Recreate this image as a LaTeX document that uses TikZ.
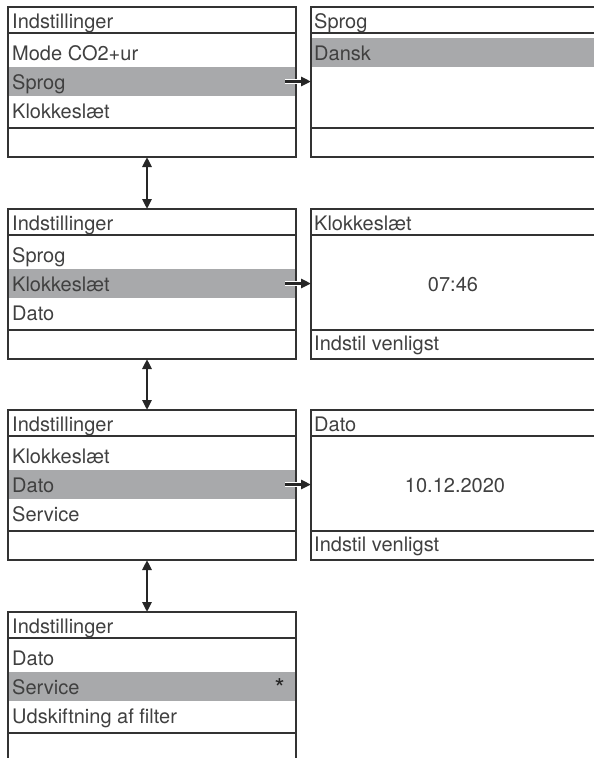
\documentclass[tikz,border=0pt]{standalone}
\usepackage{fontspec}
\setmainfont{TeX Gyre Heros}
\usetikzlibrary{arrows.meta}
\definecolor{frameline}{HTML}{333333}
\definecolor{selrow}{HTML}{A8A9AB}
\definecolor{ink}{HTML}{404040}
\begin{document}
\begin{tikzpicture}[x=1pt,y=-1pt,
  frame/.style={draw=frameline,line width=1.2pt},
  hl/.style={fill=selrow},
  txt/.style={inner sep=0pt,anchor=base west,text=ink,font=\fontsize{20}{22}\selectfont},
  ctxt/.style={txt,anchor=base},
  nav/.style={draw=black!85,line width=2.5pt,-{Triangle[length=10pt,width=9pt]}},
  navboth/.style={draw=black!85,line width=2.5pt,{Triangle[length=10pt,width=9pt]}-{Triangle[length=10pt,width=9pt]}},
  halo/.style={draw=white,line width=4.5pt}]
\useasboundingbox (0,0) rectangle (594,758);

% ---------- settings menu, step 1 (top 7) ----------
\fill[hl] (8,67) rectangle (296,96);
\draw[frame] (8,7) rectangle (296,157);
\draw[frame] (8,33) -- (296,33) (8,128) -- (296,128);
\node[txt] (m1t) at (12,28) {Indstillinger};
\node[txt] (m1a) at (12,60) {Mode CO2+ur};
\node[txt] (m1b) at (12,89) {Sprog};
\node[txt] (m1c) at (12,118) {Klokkeslæt};

% language screen
\fill[hl] (311,38) rectangle (594,67);
\draw[frame] (594,7) -- (311,7) -- (311,157) -- (594,157);
\draw[frame] (311,33) -- (594,33) (311,128) -- (594,128);
\node[txt] (s1t) at (314,28) {Sprog};
\node[txt] (s1a) at (314,60) {Dansk};

% ---------- step 2 (top 209) ----------
\fill[hl] (8,269) rectangle (296,298);
\draw[frame] (8,209) rectangle (296,359);
\draw[frame] (8,235) -- (296,235) (8,330) -- (296,330);
\node[txt] (m2t) at (12,230) {Indstillinger};
\node[txt] (m2a) at (12,262) {Sprog};
\node[txt] (m2b) at (12,291) {Klokkeslæt};
\node[txt] (m2c) at (12,320) {Dato};

% clock screen
\draw[frame] (594,209) -- (311,209) -- (311,359) -- (594,359);
\draw[frame] (311,235) -- (594,235) (311,330) -- (594,330);
\node[txt] (s2t) at (314,230) {Klokkeslæt};
\node[ctxt] (s2v) at (453,291) {07:46};
\node[txt] (s2h) at (314,350) {Indstil venligst};

% ---------- step 3 (top 410) ----------
\fill[hl] (8,470) rectangle (296,499);
\draw[frame] (8,410) rectangle (296,560);
\draw[frame] (8,436) -- (296,436) (8,531) -- (296,531);
\node[txt] (m3t) at (12,431) {Indstillinger};
\node[txt] (m3a) at (12,463) {Klokkeslæt};
\node[txt] (m3b) at (12,492) {Dato};
\node[txt] (m3c) at (12,521) {Service};

% date screen
\draw[frame] (594,410) -- (311,410) -- (311,560) -- (594,560);
\draw[frame] (311,436) -- (594,436) (311,531) -- (594,531);
\node[txt] (s3t) at (314,431) {Dato};
\node[ctxt] (s3v) at (455,492) {10.12.2020};
\node[txt] (s3h) at (314,551) {Indstil venligst};

% ---------- step 4 (top 612) ----------
\fill[hl] (8,672) rectangle (296,701);
\draw[frame] (8,758) -- (8,612) -- (296,612) -- (296,758);
\draw[frame] (8,638) -- (296,638) (8,733) -- (296,733);
\node[txt] (m4t) at (12,633) {Indstillinger};
\node[txt] (m4a) at (12,665) {Dato};
\node[txt] (m4b) at (12,694) {Service};
\node[txt,anchor=base east,text=black!85,font=\fontsize{26}{26}\selectfont] (m4s) at (285,697) {*};
\node[txt] (m4c) at (12,723) {Udskiftning af filter};

% ---------- connectors ----------
\coordinate (m1out) at (285,81.5);  \coordinate (s1in) at (311,81.5);
\coordinate (m2out) at (285,283.5); \coordinate (s2in) at (311,283.5);
\coordinate (m3out) at (285,484.5); \coordinate (s3in) at (311,484.5);
\coordinate (m1bot) at (147,157); \coordinate (m2top) at (147,209);
\coordinate (m2bot) at (147,359); \coordinate (m3top) at (147,410);
\coordinate (m3bot) at (147,560); \coordinate (m4top) at (147,612);

\foreach \a/\b in {m1out/s1in,m2out/s2in,m3out/s3in}{
  \draw[halo] (\a) -- ([xshift=-6pt]\b);
  \draw[nav] (\a) -- (\b);
}
\draw[navboth] (m1bot) -- (m2top);
\draw[navboth] (m2bot) -- (m3top);
\draw[navboth] (m3bot) -- (m4top);
\end{tikzpicture}
\end{document}
